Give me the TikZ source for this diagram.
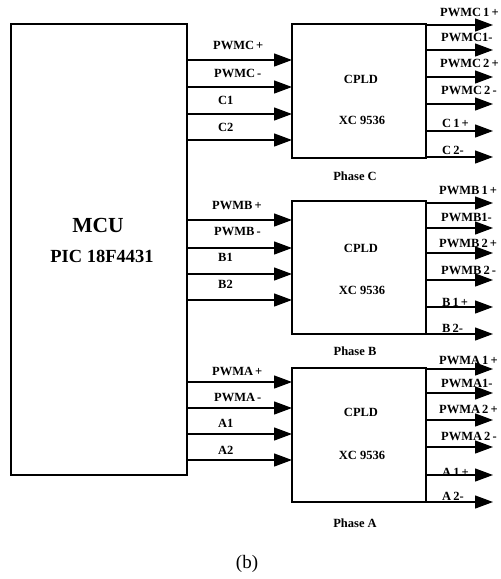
\documentclass[tikz,border=0pt]{standalone}
\usepackage{fontspec}
\setmainfont{Liberation Serif}
\usetikzlibrary{arrows.meta, positioning, calc}
\tikzset{
  >=Stealth,
  mcu/.style     = {draw, line width=1.3pt, minimum width=176pt,
                    minimum height=451pt, inner sep=0pt, outer sep=0pt},
  cpld/.style    = {draw, line width=1.3pt, minimum width=134pt,
                    minimum height=134pt, inner sep=0pt, outer sep=0pt},
  chip/.style    = {font=\fontsize{12.5}{14}\selectfont\bfseries, inner sep=0pt},
  sig/.style     = {font=\fontsize{12.5}{14}\selectfont\bfseries, inner sep=0pt,
                    anchor=base west},
  phase/.style   = {font=\fontsize{12.5}{14}\selectfont\bfseries, inner sep=0pt},
  arrow/.style   = {-{Triangle[length=18pt, width=13pt]}, line width=1.3pt},
}

\begin{document}
\begin{tikzpicture}[x=1pt, y=-1pt]
  \useasboundingbox (0,0) rectangle (501,579);

  % ---------- microcontroller ----------------------------------------
  \node[mcu] (mcu) at (99,249.5) {};
  \node[font=\fontsize{21.5}{24}\selectfont\bfseries, inner sep=0pt]
    (mcuname) at (98,225) {MCU};
  \node[font=\fontsize{18.5}{21}\selectfont\bfseries, inner sep=0pt]
    (mcupart) at (102,256) {PIC 18F4431};

  % ---------- the three CPLD blocks -----------------------------------
  \node[cpld] (cplc) at (359,91) {};
  \node[cpld, minimum height=133pt] (cplb) at (359,267.5) {};
  \node[cpld] (cpla) at (359,435) {};
  \foreach \ph/\ya/\yb in {C/79/120, B/248/290, A/412/455} {
    \node[chip] (name\ph) at (361,\ya) {CPLD};
    \node[chip] (part\ph) at (362,\yb) {XC 9536};
  }
  \node[phase] (phC) at (355,176) {Phase C};
  \node[phase] (phB) at (355,351) {Phase B};
  \node[phase] (phA) at (355,523) {Phase A};

  % ---------- phase C: inputs and outputs -----------------------------
  \foreach \y/\ly/\lx/\lab [count=\i] in
      {60/49/213/{PWMC\,+}, 87/77/214/{PWMC\,-}, 114/104/218/C1, 140/131/218/C2} {
    \coordinate (yinC\i) at (0,\y);
    \coordinate (inC\i) at (mcu.east |- yinC\i);
    \draw[arrow] (inC\i) -- (inC\i -| cplc.west);
    \node[sig] (labinC\i) at (\lx,\ly) {\lab};
  }
  \foreach \y/\ly/\lx/\lab [count=\i] in
      {25/16/440/{PWMC\,1\,+}, 50/41/441/{PWMC1-}, 77/67/440/{PWMC\,2\,+},
       104/94/441/{PWMC\,2\,-}, 131/127/442/{C\,1\,+}, 157/154/442/{C\,2-}} {
    \coordinate (outC\i) at (493,\y);
    \draw[arrow] (cplc.east |- outC\i) -- (outC\i);
    \node[sig] (laboutC\i) at (\lx,\ly) {\lab};
  }

  % ---------- phase B: inputs and outputs -----------------------------
  \foreach \y/\ly/\lx/\lab [count=\i] in
      {220/209/212/{PWMB\,+}, 248/235/214/{PWMB\,-}, 274/261/218/B1, 300/288/218/B2} {
    \coordinate (yinB\i) at (0,\y);
    \coordinate (inB\i) at (mcu.east |- yinB\i);
    \draw[arrow] (inB\i) -- (inB\i -| cplb.west);
    \node[sig] (labinB\i) at (\lx,\ly) {\lab};
  }
  \foreach \y/\ly/\lx/\lab [count=\i] in
      {203/194/439/{PWMB\,1\,+}, 228/221/441/{PWMB1-}, 253/247/439/{PWMB\,2\,+},
       280/274/441/{PWMB\,2\,-}, 307/306/442/{B\,1\,+}, 334/332/442/{B\,2-}} {
    \coordinate (outB\i) at (493,\y);
    \draw[arrow] (cplb.east |- outB\i) -- (outB\i);
    \node[sig] (laboutB\i) at (\lx,\ly) {\lab};
  }

  % ---------- phase A: inputs and outputs -----------------------------
  \foreach \y/\ly/\lx/\lab [count=\i] in
      {382/375/212/{PWMA\,+}, 408/401/214/{PWMA\,-}, 434/427/218/A1, 460/454/218/A2} {
    \coordinate (yinA\i) at (0,\y);
    \coordinate (inA\i) at (mcu.east |- yinA\i);
    \draw[arrow] (inA\i) -- (inA\i -| cpla.west);
    \node[sig] (labinA\i) at (\lx,\ly) {\lab};
  }
  \foreach \y/\ly/\lx/\lab [count=\i] in
      {369/364/439/{PWMA\,1\,+}, 393/387/441/{PWMA1-}, 420/413/439/{PWMA\,2\,+},
       447/440/441/{PWMA\,2\,-}, 475/476/442/{A\,1\,+}, 502/500/442/{A\,2-}} {
    \coordinate (outA\i) at (493,\y);
    \draw[arrow] (cpla.east |- outA\i) -- (outA\i);
    \node[sig] (laboutA\i) at (\lx,\ly) {\lab};
  }

  % caption
  \node[font=\fontsize{19}{22}\selectfont, inner sep=0pt] (caption) at (247,564) {(b)};
\end{tikzpicture}
\end{document}
